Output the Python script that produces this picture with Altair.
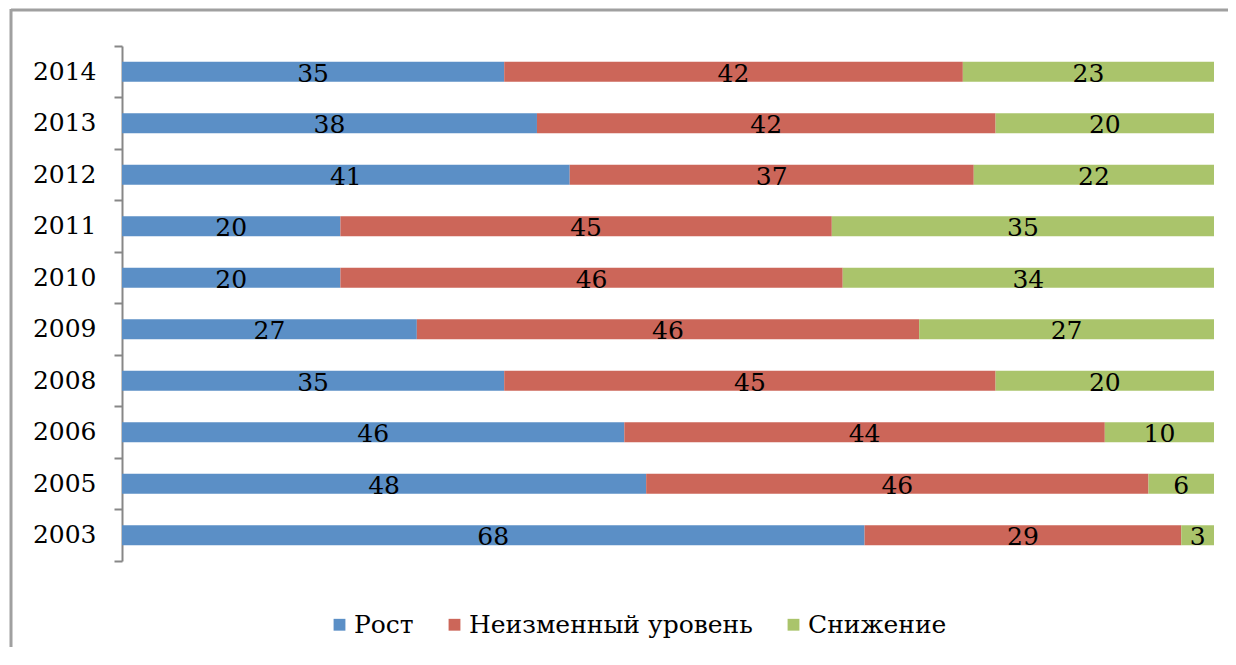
import altair as alt
import pandas as pd

years = ["2014", "2013", "2012", "2011", "2010", "2009", "2008", "2006", "2005", "2003"]
rost = [35, 38, 41, 20, 20, 27, 35, 46, 48, 68]
neizm = [42, 42, 37, 45, 46, 46, 45, 44, 46, 29]
snizh = [23, 20, 22, 35, 34, 27, 20, 10, 6, 3]
series = ["Рост", "Неизменный уровень", "Снижение"]
colors = ["#5B8FC6", "#CC6659", "#AAC46B"]

rows = []
for i, y in enumerate(years):
    for k, (s, vals) in enumerate(zip(series, [rost, neizm, snizh])):
        rows.append({"year": y, "series": s, "value": vals[i], "order": k})
df = pd.DataFrame(rows)

FONT = "DejaVu Serif"
FS = 25
W, H = 1092, 515
PAD_R, PAD_B = 14, 86

base = alt.Chart(df).transform_stack(
    stack="value", groupby=["year"], as_=["x0", "x1"],
    sort=[alt.SortField("order", order="ascending")]
).transform_calculate(mid="(datum.x0 + datum.x1) / 2")

yenc = alt.Y("year:N", sort=years, title=None,
             scale=alt.Scale(paddingInner=0, paddingOuter=0),
             axis=alt.Axis(domainColor="#878787", domainWidth=2, tickColor="#878787",
                           tickWidth=2, tickSize=8, bandPosition=1, tickExtra=True,
                           labelFont=FONT, labelFontSize=FS, labelColor="#000000",
                           labelPadding=18, grid=False))
xscale = alt.Scale(domain=[0, 100], nice=False, zero=True)

bars = base.mark_bar(size=20).encode(
    y=yenc,
    x=alt.X("x0:Q", scale=xscale, axis=None),
    x2="x1:Q",
    color=alt.Color("series:N", scale=alt.Scale(domain=series, range=colors),
                    legend=alt.Legend(title=None, orient="none", direction="horizontal",
                                      legendX=205, legendY=566, padding=0,
                                      symbolType="square", symbolSize=140,
                                      symbolStrokeWidth=0, labelFont=FONT,
                                      labelFontSize=FS, labelColor="#000000",
                                      labelLimit=0, labelOffset=2, columnPadding=28)),
    order=alt.Order("order:Q"),
)

labels = base.mark_text(font=FONT, fontSize=FS, color="#000000", baseline="middle", dy=2).encode(
    y=alt.Y("year:N", sort=years),
    x=alt.X("mid:Q", scale=xscale),
    text=alt.Text("value:Q"),
)

one = pd.DataFrame({"a": [0]})
frame_top = alt.Chart(one).mark_rule(color="#A0A0A0", strokeWidth=3).encode(
    x=alt.value(-111), x2=alt.value(W + PAD_R), y=alt.value(-36))
frame_left = alt.Chart(one).mark_rule(color="#A0A0A0", strokeWidth=3).encode(
    x=alt.value(-111), y=alt.value(-37), y2=alt.value(H + PAD_B))

chart = alt.layer(frame_top, frame_left, bars, labels).properties(
    width=W, height=H,
    background="#ffffff",
    autosize=alt.AutoSizeParams(type="none"),
    padding={"left": 114, "top": 38, "right": PAD_R, "bottom": PAD_B},
).configure_view(strokeWidth=0, stroke=None)

chart.save("out.html", embed_options={"renderer": "svg", "actions": False})
